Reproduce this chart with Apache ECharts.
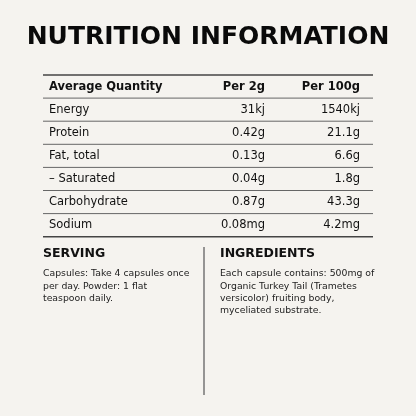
<!DOCTYPE html>
<html><head><meta charset="utf-8">
<script src="https://cdn.jsdelivr.net/npm/echarts@6/dist/echarts.min.js"></script>
<style>html,body{margin:0;padding:0;background:#f5f3ef}#c{width:416px;height:416px}</style>
</head><body><div id="c"></div>
<script>
const title = "NUTRITION INFORMATION";
const headers = ["Average Quantity", "Per 2g", "Per 100g"];
const nutrients = ["Energy", "Protein", "Fat, total", "– Saturated", "Carbohydrate", "Sodium"];
const per2g = ["31kj", "0.42g", "0.13g", "0.04g", "0.87g", "0.08mg"];
const per100g = ["1540kj", "21.1g", "6.6g", "1.8g", "43.3g", "4.2mg"];
const servingTitle = "SERVING";
const servingText = ["Capsules: Take 4 capsules once", "per day. Powder: 1 flat", "teaspoon daily."];
const ingredientsTitle = "INGREDIENTS";
const ingredientsText = ["Each capsule contains: 500mg of", "Organic Turkey Tail (Trametes", "versicolor) fruiting body,", "myceliated substrate."];

const F = "DejaVu Sans";
const g = [];
const txt = (x, y, s, o) => g.push({type:'text', x, y, style:Object.assign({text:s, fontFamily:F, fontSize:12, fill:'#111', textVerticalAlign:'middle'}, o||{})});
const line = (x1,y1,x2,y2,w,c) => g.push({type:'line', shape:{x1,y1,x2,y2}, style:{stroke:c||'#555', lineWidth:w||1}});

txt(208, 37, title, {fontSize:25, fontWeight:'bold', textAlign:'center', fill:'#0a0a0a'});
const rowH = 23.1, tableTop = 75;
line(43, tableTop, 373, tableTop, 1.5, '#444');
const rows = [headers].concat(nutrients.map((n,i)=>[n, per2g[i], per100g[i]]));
rows.forEach((r,i)=>{
  const cy = tableTop + rowH*i + rowH/2;
  const o = i===0 ? {fontWeight:'bold', fontSize:11.5} : {fontSize:11.5};
  txt(49, cy, r[0], o);
  txt(265, cy, r[1], Object.assign({textAlign:'right'}, o));
  txt(360, cy, r[2], Object.assign({textAlign:'right'}, o));
  const last = i===rows.length-1;
  line(43, tableTop+rowH*(i+1), 373, tableTop+rowH*(i+1), last?1.5:1, last?'#444':'#666');
});
txt(43, 254, servingTitle, {fontSize:12.5, fontWeight:'bold'});
txt(220, 254, ingredientsTitle, {fontSize:12.5, fontWeight:'bold'});
servingText.forEach((s,i)=>txt(43, 274+12.3*i, s, {fontSize:9.3, fill:'#222'}));
ingredientsText.forEach((s,i)=>txt(220, 274+12.3*i, s, {fontSize:9.3, fill:'#222'}));
line(204, 247, 204, 395, 1.2, '#555');

const chart = echarts.init(document.getElementById('c'));
chart.setOption({backgroundColor:'#f5f3ef', graphic:{elements:g}});
</script></body></html>
